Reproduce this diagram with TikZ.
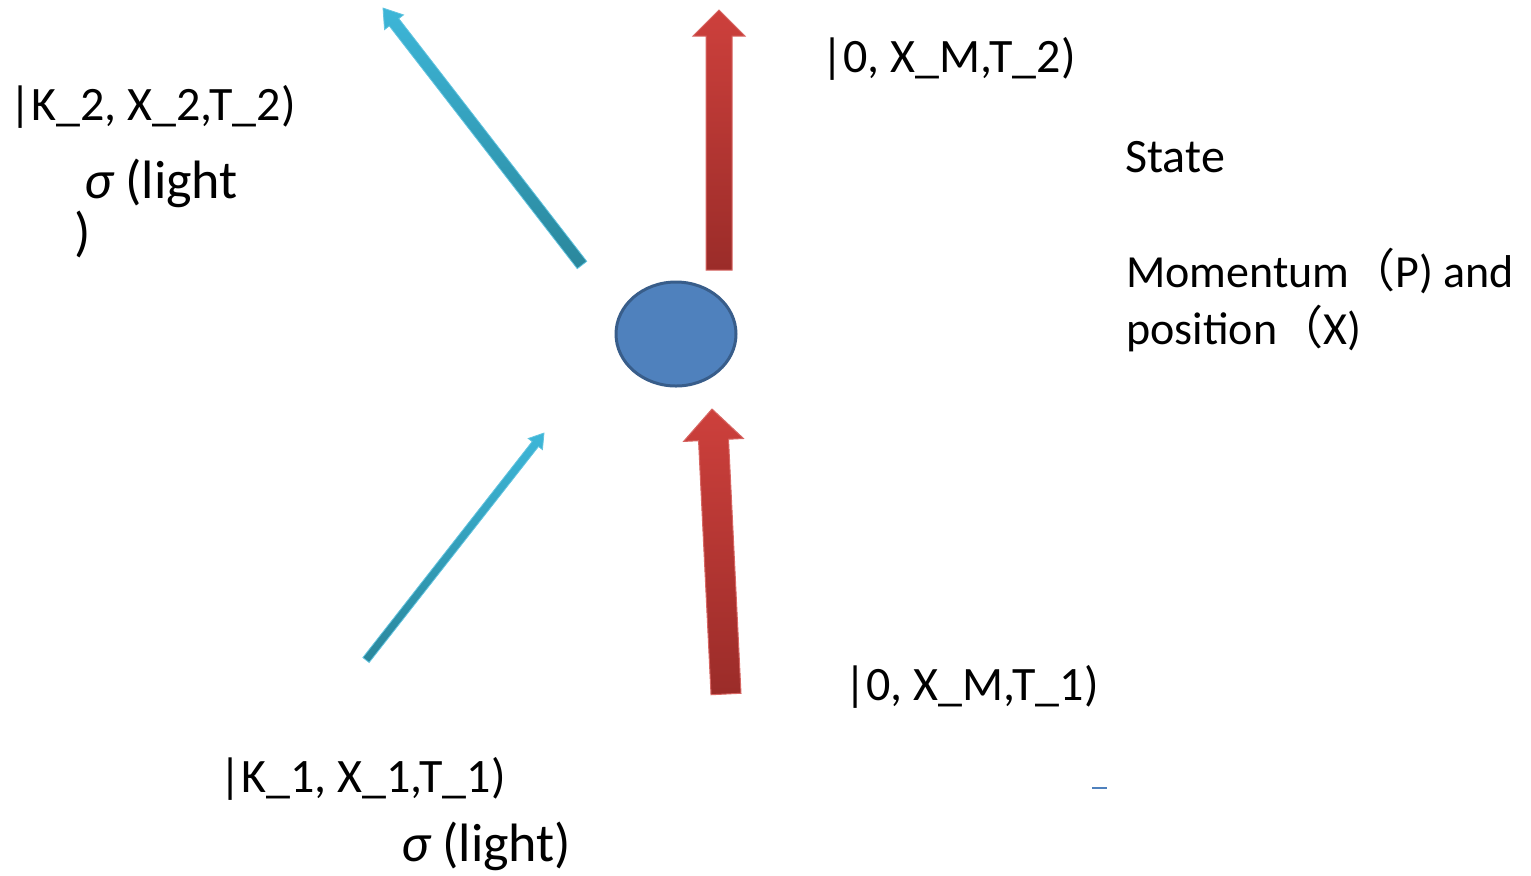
\documentclass[tikz,border=0pt]{standalone}
\usepackage{fontspec}
\setmainfont{Carlito}
\newfontfamily\cjk{Noto Sans CJK SC}
\usetikzlibrary{calc, shapes.geometric}

\definecolor{redtop}{HTML}{CD403C}
\definecolor{redbot}{HTML}{9B2C29}
\definecolor{bluetop}{HTML}{3DB6D8}
\definecolor{bluebot}{HTML}{2A879C}
\definecolor{ballfill}{HTML}{4F81BD}
\definecolor{balledge}{HTML}{385D8A}

% block arrow: style, start, tip, shaft half width, head half width, head length
\newcommand{\blockarrow}[6]{%
  \coordinate (#2-h) at ($(#3)!#6!(#2)$);
  \path[#1] ($(#2)!#4!90:(#3)$) -- ($(#2-h)!#4!90:(#3)$) -- ($(#2-h)!#5!90:(#3)$)
    -- (#3) -- ($(#2-h)!#5!-90:(#3)$) -- ($(#2-h)!#4!-90:(#3)$) -- ($(#2)!#4!-90:(#3)$) -- cycle;
}

\begin{document}
\begin{tikzpicture}[
    x=0.5pt, y=-0.5pt,
    lbl/.style={anchor=base west, inner sep=0pt, font=\fontsize{24}{29}\selectfont},
    side/.style={anchor=base west, inner sep=0pt, font=\fontsize{23}{28}\selectfont},
    sig/.style={anchor=base west, inner sep=0pt, font=\fontsize{27}{32}\selectfont},
    redarr/.style={top color=redtop, bottom color=redbot, draw=redtop!80!white, line width=0.5pt},
    bluearr/.style={top color=bluetop, bottom color=bluebot, draw=bluetop!80!white, line width=0.4pt},
]
\useasboundingbox (0,0) rectangle (1531,875);

% Particle
\node[ellipse, minimum width=60pt, minimum height=52pt, fill=ballfill,
      draw=balledge, line width=1.5pt] (ball) at (676,334) {};

% End points of the four arrows
\coordinate (rin)  at (726,694);  \coordinate (rintip)  at (712,409);
\coordinate (rout) at (719,270);  \coordinate (routtip) at (719,10);
\coordinate (bin)  at (366,660);  \coordinate (bintip)  at (544,433);
\coordinate (bout) at (582,265);  \coordinate (bouttip) at (383,8);

% Arrows
\blockarrow{redarr}{rout}{routtip}{6.5pt}{13pt}{13pt}
\blockarrow{redarr}{rin}{rintip}{7.5pt}{15pt}{15.5pt}
\blockarrow{bluearr}{bout}{bouttip}{3pt}{6pt}{9pt}
\blockarrow{bluearr}{bin}{bintip}{2pt}{4.5pt}{7pt}

% Labels
\node[lbl] (stout) at (821,72) {|0, X\_M,T\_2)};
\node[lbl] (kout) at (9,120) {|K\_2, X\_2,T\_2)};
\node[sig] (sigout) at (84,198) {\itshape σ\upshape{} (light};
\node[sig] (sigoutb) at (74,250) {)};
\node[lbl] (state) at (1125,172) {State};
\node[side] (mom) at (1126,287) {Momentum{\cjk（}P) and};
\node[side] (pos) at (1126,344) {position{\cjk（}X)};
\node[lbl] (stin) at (844,700) {|0, X\_M,T\_1)};
\node[lbl] (kin) at (219,792) {|K\_1, X\_1,T\_1)};
\node[sig] (sigin) at (401,861) {\itshape σ\upshape{} (light)};

% stray mark
\coordinate (mk) at (1092,788);
\draw[ballfill, line width=0.6pt] (mk) -- ++(15,0);
\end{tikzpicture}
\end{document}
